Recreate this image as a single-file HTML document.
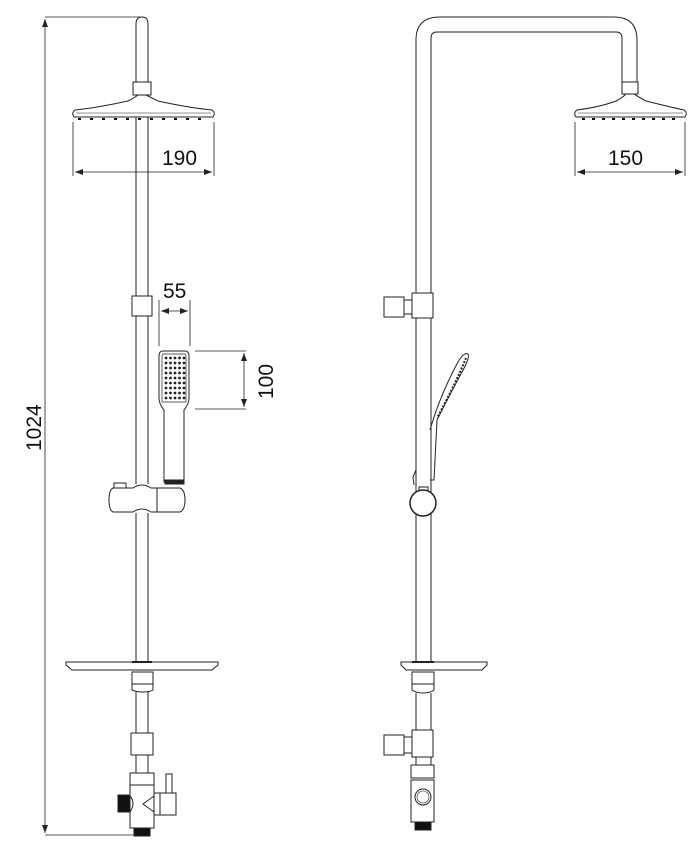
<!DOCTYPE html>
<html><head><meta charset="utf-8"><style>
html,body{margin:0;padding:0;background:#fff;}
svg{display:block}
text{font-family:"Liberation Sans",sans-serif;fill:#111}
</style></head><body>
<svg width="697" height="863" viewBox="0 0 697 863" xmlns="http://www.w3.org/2000/svg">
<defs>
<marker id="a" markerWidth="8" markerHeight="6" refX="8" refY="3" orient="auto-start-reverse" markerUnits="userSpaceOnUse"><path d="M0,0 L8,3 L0,6 z" fill="#222"/></marker>
</defs>
<g fill="none" stroke="#222" stroke-width="1">
<line x1="45" y1="17" x2="140" y2="17" stroke-width="0.8"/>
<line x1="45" y1="835" x2="134" y2="835" stroke-width="0.8"/>
<line x1="45" y1="19" x2="45" y2="833" stroke-width="0.8" marker-start="url(#a)" marker-end="url(#a)"/>
<path d="M136,82 L136,24 Q136,17 142,17 Q148,17 148,24 L148,82"/>
<rect x="133" y="82" width="18" height="13"/>
<path d="M138,95 L146,95 Q152,98 158,101 Q190,108 212,110 Q216,113 213,117 L74,117 Q71,113 75,110 Q96,108 128,101 Q134,98 138,95 Z"/>
<line x1="76" y1="113" x2="211" y2="113" stroke-width="0.6"/>
<line x1="78" y1="119" x2="210" y2="119" stroke="#111" stroke-width="2" stroke-dasharray="3,9"/>
<line x1="73" y1="122" x2="73" y2="176" stroke-width="0.8"/>
<line x1="214" y1="122" x2="214" y2="176" stroke-width="0.8"/>
<line x1="75" y1="172" x2="212" y2="172" stroke-width="0.8" marker-start="url(#a)" marker-end="url(#a)"/>
<line x1="136" y1="117" x2="136" y2="296"/><line x1="148" y1="117" x2="148" y2="296"/>
<rect x="132" y="296" width="20" height="20"/>
<line x1="136" y1="316" x2="136" y2="484"/><line x1="148" y1="316" x2="148" y2="484"/>
<line x1="136" y1="513" x2="136" y2="662"/><line x1="148" y1="513" x2="148" y2="662"/>
<path d="M163,351 L185,351 Q189,351 189,356 L189,398 Q189,404 184,410 L184,482 L164,482 L164,410 Q159,404 159,398 L159,356 Q159,351 163,351 Z"/>
<path d="M163,354 L185,354 Q186,354 186,357 L186,402 L162,402 L162,357 Q162,354 163,354 Z" stroke-width="0.7"/>
<g stroke="none" fill="#222">
<circle cx="166" cy="358" r="1.4"/><circle cx="170.5" cy="358" r="1.4"/><circle cx="175" cy="358" r="1.4"/><circle cx="179.5" cy="358" r="1.4"/><circle cx="184" cy="358" r="1.4"/>
<circle cx="166" cy="363" r="1.4"/><circle cx="170.5" cy="363" r="1.4"/><circle cx="175" cy="363" r="1.4"/><circle cx="179.5" cy="363" r="1.4"/><circle cx="184" cy="363" r="1.4"/>
<circle cx="166" cy="368" r="1.4"/><circle cx="170.5" cy="368" r="1.4"/><circle cx="175" cy="368" r="1.4"/><circle cx="179.5" cy="368" r="1.4"/><circle cx="184" cy="368" r="1.4"/>
<circle cx="166" cy="373" r="1.4"/><circle cx="170.5" cy="373" r="1.4"/><circle cx="175" cy="373" r="1.4"/><circle cx="179.5" cy="373" r="1.4"/><circle cx="184" cy="373" r="1.4"/>
<circle cx="166" cy="378" r="1.4"/><circle cx="170.5" cy="378" r="1.4"/><circle cx="175" cy="378" r="1.4"/><circle cx="179.5" cy="378" r="1.4"/><circle cx="184" cy="378" r="1.4"/>
<circle cx="166" cy="383" r="1.4"/><circle cx="170.5" cy="383" r="1.4"/><circle cx="175" cy="383" r="1.4"/><circle cx="179.5" cy="383" r="1.4"/><circle cx="184" cy="383" r="1.4"/>
<circle cx="166" cy="388" r="1.4"/><circle cx="170.5" cy="388" r="1.4"/><circle cx="175" cy="388" r="1.4"/><circle cx="179.5" cy="388" r="1.4"/><circle cx="184" cy="388" r="1.4"/>
<circle cx="166" cy="393" r="1.4"/><circle cx="170.5" cy="393" r="1.4"/><circle cx="175" cy="393" r="1.4"/><circle cx="179.5" cy="393" r="1.4"/><circle cx="184" cy="393" r="1.4"/>
<circle cx="166" cy="398" r="1.4"/><circle cx="170.5" cy="398" r="1.4"/><circle cx="175" cy="398" r="1.4"/><circle cx="179.5" cy="398" r="1.4"/><circle cx="184" cy="398" r="1.4"/>
</g>
<rect x="165" y="480" width="19" height="4" fill="#222"/>
<line x1="159" y1="300" x2="159" y2="346" stroke-width="0.8"/>
<line x1="190" y1="300" x2="190" y2="346" stroke-width="0.8"/>
<line x1="161" y1="311" x2="188" y2="311" stroke-width="0.8" marker-start="url(#a)" marker-end="url(#a)"/>
<line x1="195" y1="351" x2="246" y2="351" stroke-width="0.8"/>
<line x1="195" y1="409" x2="246" y2="409" stroke-width="0.8"/>
<line x1="244" y1="353" x2="244" y2="407" stroke-width="0.8" marker-start="url(#a)" marker-end="url(#a)"/>
<path d="M113,488 L133,488 Q142,482 151,488 L180,488 Q185,490 185,500 Q185,510 180,512 L151,512 Q142,506 133,512 L113,512 Q109,510 109,500 Q109,490 113,488 Z"/>
<line x1="157" y1="488" x2="157" y2="512"/>
<rect x="114" y="483" width="12" height="5"/>
<path d="M66,662 L218,662 L218,665 L212,670 L72,670 L66,665 Z"/>
<line x1="132" y1="662" x2="152" y2="662" stroke-width="2"/>
<path d="M132,672 L153,672 L153,690 Q150,692 143,692 Q136,692 132,690 Z"/>
<line x1="132" y1="684" x2="153" y2="684"/>
<line x1="136" y1="692" x2="136" y2="733"/><line x1="148" y1="692" x2="148" y2="733"/>
<rect x="131" y="733" width="22" height="22"/>
<line x1="136" y1="755" x2="136" y2="773"/><line x1="148" y1="755" x2="148" y2="773"/>
<rect x="130" y="773" width="24" height="55"/>
<line x1="130" y1="785" x2="154" y2="785"/>
<path d="M130,796 Q136,803 130,812"/>
<path d="M154,796 L143,804 L154,812"/>
<rect x="118" y="795" width="12" height="17" fill="#111"/>
<rect x="154" y="793" width="22" height="22"/>
<line x1="160" y1="793" x2="160" y2="815"/>
<rect x="166" y="774" width="6" height="19"/>
<rect x="134" y="828" width="16" height="8" fill="#111"/>

<path d="M416,662 L416,40 Q416,17 440,17 L614,17 Q637,17 637,40 L637,82"/>
<path d="M431,662 L431,38 Q431,32 437,32 L616,32 Q622,32 622,38 L622,82"/>
<rect x="622" y="82" width="16" height="12"/>
<path d="M626,94 L634,94 Q640,98 646,101 Q670,107 684,110 Q688,113 685,117 L576,117 Q573,113 577,110 Q600,107 616,101 Q622,98 626,94 Z"/>
<line x1="578" y1="113" x2="683" y2="113" stroke-width="0.6"/>
<line x1="582" y1="119" x2="682" y2="119" stroke="#111" stroke-width="2" stroke-dasharray="3,7"/>
<line x1="575" y1="122" x2="575" y2="176" stroke-width="0.8"/>
<line x1="685" y1="122" x2="685" y2="176" stroke-width="0.8"/>
<line x1="577" y1="172" x2="683" y2="172" stroke-width="0.8" marker-start="url(#a)" marker-end="url(#a)"/>
<rect x="412" y="293" width="21" height="25" fill="#fff"/>
<rect x="384" y="297" width="20" height="20"/>
<rect x="404" y="300" width="8" height="14"/>
<path d="M430,430 Q440,395 458,362 Q464,352 468,354 Q470,358 462,372 Q448,398 437,420 L434,480 L430,480" />
<path d="M466,358 Q455,385 437,418" stroke-width="2" stroke-dasharray="2,1.5"/>
<path d="M414,485 L413,477 L416,470"/>
<rect x="419" y="487" width="9" height="4"/>
<circle cx="423" cy="503" r="13" fill="#fff" stroke-width="1.5"/>
<path d="M401,662 L487,662 L487,665 L482,670 L406,670 L401,665 Z"/>
<line x1="412" y1="662" x2="434" y2="662" stroke-width="2"/>
<path d="M412,672 L434,672 L434,690 Q430,693 423,693 Q416,693 412,690 Z"/>
<line x1="412" y1="684" x2="434" y2="684"/>
<line x1="416" y1="693" x2="416" y2="730"/><line x1="431" y1="693" x2="431" y2="730"/>
<rect x="412" y="730" width="21" height="27"/>
<rect x="384" y="735" width="20" height="20"/>
<rect x="404" y="737" width="8" height="16"/>
<line x1="416" y1="757" x2="416" y2="765"/><line x1="431" y1="757" x2="431" y2="765"/>
<rect x="411" y="765" width="23" height="13"/>
<rect x="411" y="780" width="23" height="42"/>
<circle cx="423" cy="797" r="8"/><circle cx="423" cy="797" r="6" stroke-width="0.6"/>
<rect x="415" y="822" width="16" height="8" fill="#111"/>
</g>
<text x="162" y="165" font-size="21">190</text>
<text x="163" y="298" font-size="21">55</text>
<text x="608" y="165" font-size="21">150</text>
<text transform="translate(273,399) rotate(-90)" font-size="21">100</text>
<text transform="translate(41,451) rotate(-90)" font-size="21">1024</text>
</svg>
</body></html>
